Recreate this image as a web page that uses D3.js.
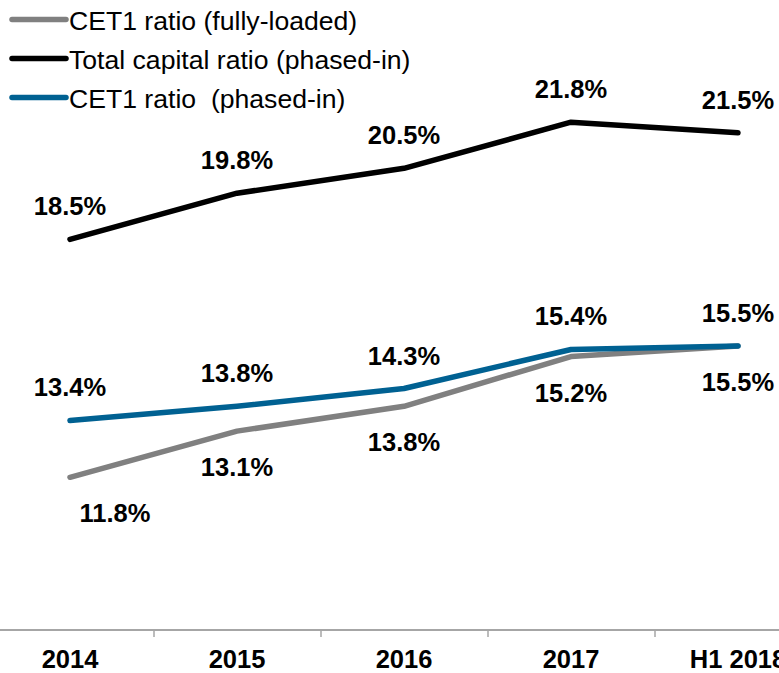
<!DOCTYPE html>
<html>
<head>
<meta charset="utf-8">
<script src="https://cdnjs.cloudflare.com/ajax/libs/d3/7.8.5/d3.min.js"></script>
<style>
  body { margin: 0; background: #fff; }
  svg { display: block; font-family: Arial, "Liberation Sans", sans-serif; }
  .lbl { font-size: 25.5px; font-weight: bold; fill: #000; text-anchor: middle; }
  .cat text { font-size: 25.5px; font-weight: bold; fill: #000; }
  .legend text { font-size: 26.6px; fill: #000; white-space: pre; }
</style>
</head>
<body>
<svg width="779" height="673"></svg>
<script>
var categories = ["2014", "2015", "2016", "2017", "H1 2018"];
var cet1Full = [11.8, 13.1, 13.8, 15.2, 15.5];
var totalCap = [18.5, 19.8, 20.5, 21.8, 21.5];
var cet1Phased = [13.4, 13.8, 14.3, 15.4, 15.5];

var series = [
  {name: "CET1 ratio (fully-loaded)", values: cet1Full, color: "#808080", below: true},
  {name: "Total capital ratio (phased-in)", values: totalCap, color: "#000000", below: false},
  {name: "CET1 ratio  (phased-in)", values: cet1Phased, color: "#006192", below: false}
];

var svg = d3.select("svg");
var axisY = 630;

var x = d3.scaleBand().domain(categories).range([-13.5, 821.5]);
var xIdx = d3.scaleLinear().domain([0, categories.length]).range([-13.5, 821.5]);
var y = d3.scaleLinear().domain([7.5, 25.24]).range([axisY, 0]);

function cx(i) { return x(categories[i]) + x.bandwidth() / 2; }

// axis line + boundary ticks
svg.append("line")
  .attr("x1", 0).attr("x2", 779)
  .attr("y1", axisY).attr("y2", axisY)
  .attr("stroke", "#a6a6a6").attr("stroke-width", 2);

var tickAxis = svg.append("g")
  .attr("transform", "translate(0," + axisY + ")")
  .call(d3.axisBottom(xIdx).tickValues([1, 2, 3, 4]).tickFormat("").tickSize(7));
tickAxis.select(".domain").remove();
tickAxis.selectAll(".tick line").attr("stroke", "#a6a6a6").attr("stroke-width", 1.5);

var catAxis = svg.append("g")
  .attr("class", "cat")
  .attr("transform", "translate(0," + axisY + ")")
  .call(d3.axisBottom(x).tickSize(0).tickPadding(20));
catAxis.select(".domain").remove();

// lines
var line = d3.line()
  .x(function(d, i) { return cx(i); })
  .y(function(d) { return y(d); });

series.forEach(function(s) {
  svg.append("path")
    .datum(s.values)
    .attr("fill", "none")
    .attr("stroke", s.color)
    .attr("stroke-width", 5.5)
    .attr("stroke-linecap", "round")
    .attr("stroke-linejoin", "round")
    .attr("d", line);
});

// labels
series.forEach(function(s) {
  svg.selectAll(null)
    .data(s.values)
    .enter()
    .append("text")
    .attr("class", "lbl")
    .attr("x", function(d, i) { return cx(i) + (s.below && i === 0 ? 45 : 0); })
    .attr("y", function(d) { return y(d) + (s.below ? 45 : -24); })
    .text(function(d) { return d.toFixed(1) + "%"; });
});

// legend
var legend = svg.append("g").attr("class", "legend");
series.forEach(function(s, i) {
  var ly = 19.5 + i * 39;
  legend.append("line")
    .attr("x1", 12).attr("x2", 66)
    .attr("y1", ly).attr("y2", ly)
    .attr("stroke", s.color).attr("stroke-width", 5.5)
    .attr("stroke-linecap", "round");
  legend.append("text")
    .attr("x", 69).attr("y", ly + 10)
    .text(s.name);
});
</script>
</body>
</html>
